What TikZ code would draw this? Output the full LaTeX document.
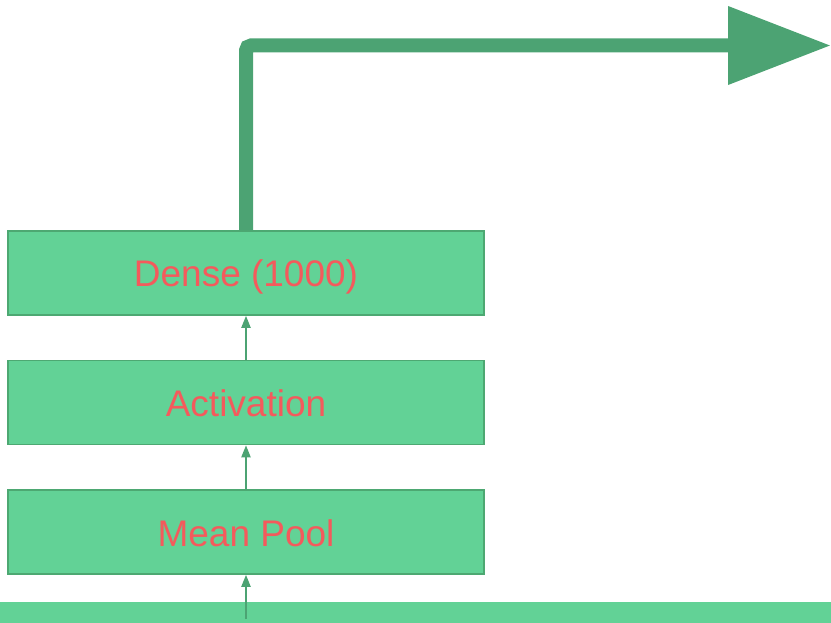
\documentclass[tikz,border=0pt]{standalone}
\usepackage{fontspec}
\setmainfont{Liberation Sans}
\usetikzlibrary{arrows.meta}
\definecolor{boxfill}{HTML}{62D296}
\definecolor{boxline}{HTML}{4DA872}
\definecolor{arrowcol}{HTML}{4CA373}
\definecolor{txtred}{HTML}{F45A5C}
\begin{document}
\begin{tikzpicture}[x=1pt,y=-1pt,
  layer/.style={draw=boxline, line width=1.5pt, fill=boxfill, minimum width=476pt, minimum height=84pt, inner sep=0pt, text height=28pt, text depth=0pt, text=txtred, font=\fontsize{37}{40}\selectfont},
  thin/.style={draw=arrowcol, line width=2pt, -{Triangle[length=12pt,width=9pt]}},
  thick/.style={draw=arrowcol, line width=14pt, rounded corners=5pt, -{Triangle[length=103pt,width=75pt]}}]
\useasboundingbox (0,0) rectangle (831,623);
\fill[boxfill] (0,602) rectangle (831,623);
\coordinate (src) at (246,619);
\node[layer] (pool) at (246,532) {Mean Pool};
\node[layer] (act) at (246,402.5) {Activation};
\node[layer] (dense) at (246,273) {Dense (1000)};
\coordinate (out) at (831,45.5);
\draw[thin] (src) -- (pool.south);
\draw[thin] (pool.north) -- (act.south);
\draw[thin] (act.north) -- (dense.south);
\draw[thick] (dense.north) -- (246,45.5) -- (out);
\end{tikzpicture}
\end{document}
